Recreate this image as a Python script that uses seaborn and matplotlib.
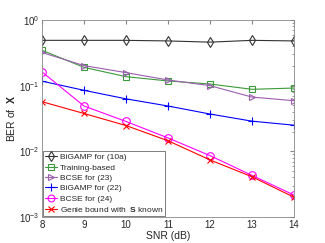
import matplotlib
matplotlib.use("Agg")
import matplotlib.pyplot as plt
import seaborn as sns
import pandas as pd
import numpy as np

snr = [8, 9, 10, 11, 12, 13, 14]
bigamp_10a = [0.49, 0.49, 0.49, 0.48, 0.46, 0.49, 0.48]
training = [0.346, 0.19, 0.137, 0.118, 0.106, 0.088, 0.092]
bcse_23 = [0.32, 0.202, 0.158, 0.122, 0.10, 0.067, 0.059]
bigamp_22 = [0.117, 0.085, 0.063, 0.049, 0.037, 0.0288, 0.025]
bcse_24 = [0.162, 0.049, 0.0285, 0.016, 0.0086, 0.0043, 0.00216]
genie = [0.057, 0.0377, 0.0247, 0.0145, 0.0074, 0.0041, 0.0020]

names = ["BiGAMP for (10a)", "Training-based", "BCSE for (23)",
         "BiGAMP for (22)", "BCSE for (24)", r"Genie bound with  $\mathbf{S}$ known"]
series = [bigamp_10a, training, bcse_23, bigamp_22, bcse_24, genie]
colors = ["#333333", "#3a9a3a", "#9b5fae", "#0000ff", "#ff00ff", "#ff0000"]
markers = ["d", "s", ">", "+", "o", "x"]
msizes = [5.5, 4.5, 5, 6, 5.5, 4.5]

sns.set_style("white")
plt.rcParams['font.family'] = ['Liberation Sans', 'DejaVu Sans']
plt.rcParams['mathtext.fontset'] = 'custom'
plt.rcParams['mathtext.rm'] = 'Liberation Sans'
plt.rcParams['mathtext.bf'] = 'Liberation Sans:bold'
plt.rcParams['mathtext.it'] = 'Liberation Sans:italic'

fig = plt.figure(figsize=(3.25, 2.43), dpi=100)
ax = fig.add_axes([42/325, 1-217/243, (294-42)/325, (217-20)/243])

df = pd.DataFrame({"snr": snr * len(series),
                   "ber": [v for s in series for v in s],
                   "name": [n for n in names for _ in snr]})

for n, c, m, ms in zip(names, colors, markers, msizes):
    sub = df[df["name"] == n]
    sns.lineplot(data=sub, x="snr", y="ber", ax=ax, color=c, marker=m,
                 markersize=ms, markerfacecolor='none', markeredgecolor=c,
                 markeredgewidth=0.8, linewidth=0.8, label=n)

ax.set_yscale("log")
ax.set_ylim(1e-3, 1)
ax.set_xlim(8, 14)
ax.set_xticks(snr)
ax.set_xlabel("SNR (dB)", fontsize=7.5, labelpad=1)
ax.set_ylabel(r"BER of  $\mathbf{X}$", fontsize=7.5, labelpad=1)
ax.tick_params(axis='both', which='both', direction='in', labelsize=7,
               color='#888888', top=True, right=True, pad=2)
ax.tick_params(which='major', length=3)
ax.tick_params(which='minor', length=1.5)
for sp in ax.spines.values():
    sp.set_color('#888888')
    sp.set_linewidth(0.6)

leg = ax.legend(loc='lower left', fontsize=6, frameon=True, fancybox=False,
                borderpad=0.25, labelspacing=0.3, handlelength=1.5,
                handletextpad=0.3, borderaxespad=0.1, markerscale=0.9)
leg.get_frame().set_edgecolor('#444444')
leg.get_frame().set_linewidth(0.6)

fig.savefig("out.png", dpi=100)
